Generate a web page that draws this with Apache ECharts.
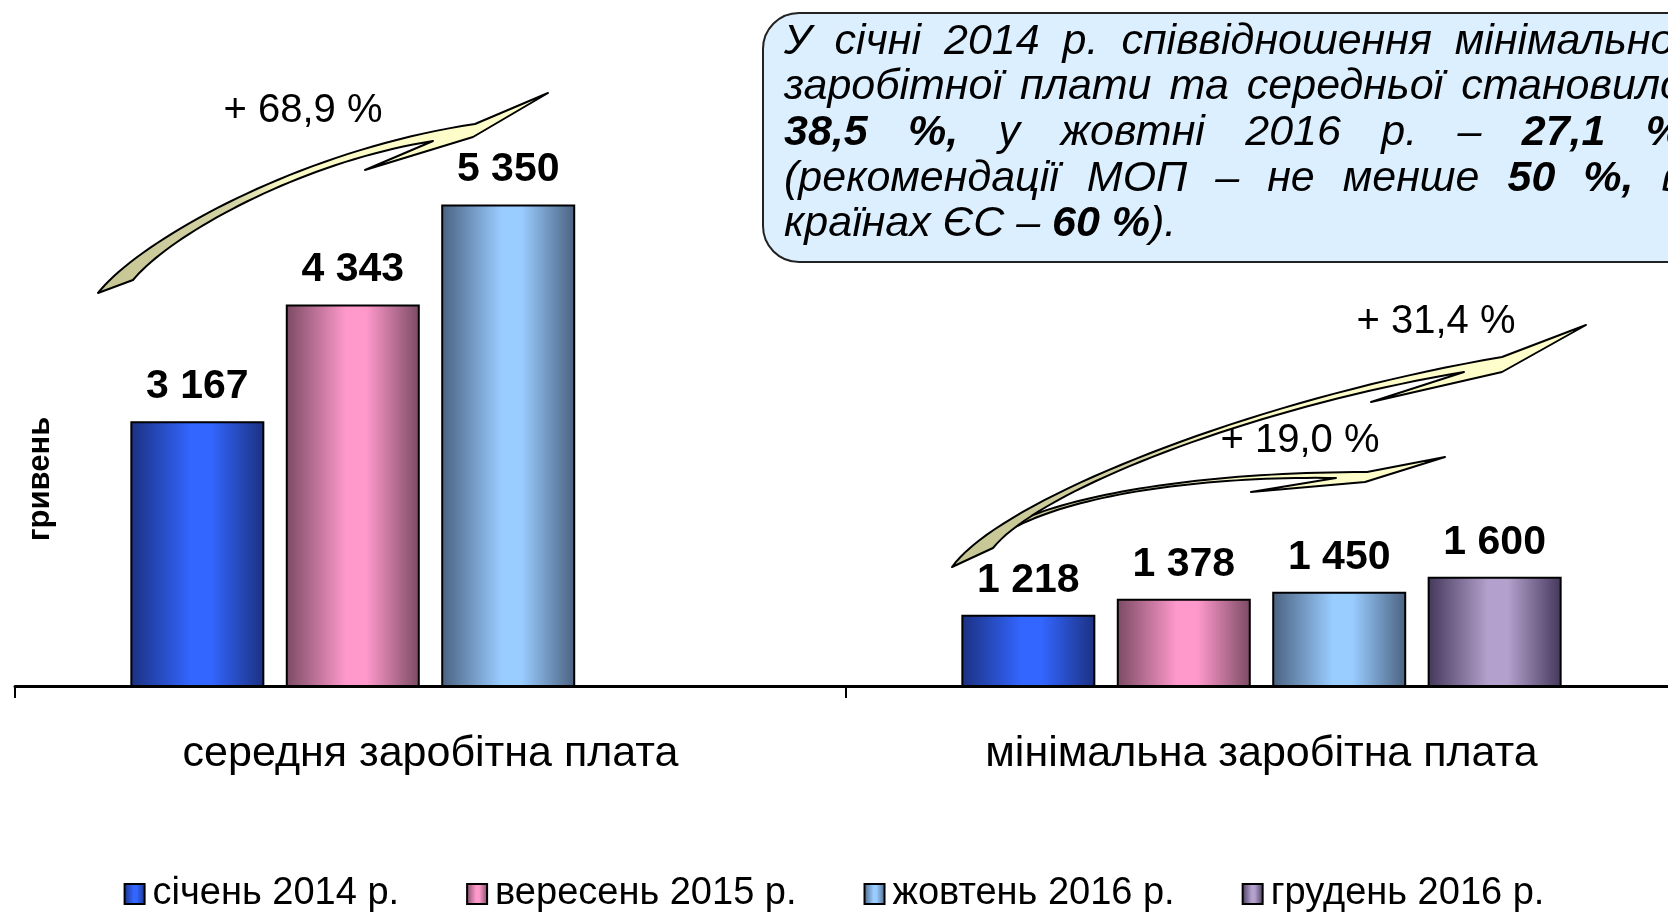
<!DOCTYPE html>
<html><head><meta charset="utf-8">
<script src="https://cdn.jsdelivr.net/npm/echarts@6/dist/echarts.min.js"></script>
<style>html,body{margin:0;padding:0;background:#fff}#c{width:1668px;height:912px}</style>
</head><body><div id="c"></div>
<script>
// ---- data ----
const categories = ['середня заробітна плата', 'мінімальна заробітна плата'];
const seriesNames = ['січень 2014 р.', 'вересень 2015 р.', 'жовтень 2016 р.', 'грудень 2016 р.'];
const jan2014 = [3167, 1218];
const sep2015 = [4343, 1378];
const oct2016 = [5350, 1450];
const dec2016 = [null, 1600];
const growthLabels = ['+ 68,9 %', '+ 31,4 %', '+ 19,0 %'];
const axisName = 'гривень';
const noteLines = [
  [['У',0],['січні',0],['2014',0],['р.',0],['співвідношення',0],['мінімальної',0]],
  [['заробітної',0],['плати',0],['та',0],['середньої',0],['становило',0]],
  [['38,5',1],['%,',1],['у',0],['жовтні',0],['2016',0],['р.',0],['–',0],['27,1',1],['%',1]],
  [['(рекомендації',0],['МОП',0],['–',0],['не',0],['менше',0],['50',1],['%,',1],['в',0]],
  [['країнах ЄС – ',0],['60 %',1],[').',0]]
];

// ---- styles ----
const FONT = '"Liberation Sans", Arial, sans-serif';
const palette = [
  ['#1b3080', '#3366ff'],
  ['#7a4a62', '#ff99cc'],
  ['#4a6180', '#99ccff'],
  ['#43375a', '#b3a0cc']
];
function grad(d, l) {
  return new echarts.graphic.LinearGradient(0, 0, 1, 0, [
    {offset: 0, color: d}, {offset: 0.45, color: l}, {offset: 0.6, color: l}, {offset: 1, color: d}
  ]);
}
function fmt(v) { return String(v).replace(/\B(?=(\d{3})+(?!\d))/g, ' '); }

const seriesData = [jan2014, sep2015, oct2016, dec2016];
const series = seriesData.map((d, i) => ({
  type: 'bar', name: seriesNames[i], data: d,
  barWidth: 134, barGap: '16%',
  itemStyle: {color: grad(palette[i][0], palette[i][1]), borderColor: '#000', borderWidth: 2},
  label: {show: true, position: 'top', distance: 14, fontSize: 41, fontWeight: 'bold',
    color: '#000', fontFamily: FONT, formatter: p => fmt(p.value)}
}));

// ---- arrows (decorative annotations) ----
function arrowFill() {
  return new echarts.graphic.LinearGradient(0, 0, 1, 0, [
    {offset: 0, color: '#c6c694'}, {offset: 0.3, color: '#d2d2a4'},
    {offset: 0.42, color: '#fafac6'}, {offset: 1, color: '#ffffcc'}
  ]);
}
function cubic(p0, p1, p2, p3, n) {
  const out = [];
  for (let i = 1; i <= n; i++) {
    const t = i / n, a = (1 - t) ** 3, b = 3 * (1 - t) ** 2 * t, c = 3 * (1 - t) * t * t, d = t ** 3;
    out.push([a * p0[0] + b * p1[0] + c * p2[0] + d * p3[0], a * p0[1] + b * p1[1] + c * p2[1] + d * p3[1]]);
  }
  return out;
}
function arrowPoly(a) {
  const pts = [a.s];
  pts.push(...cubic(a.s, a.u1, a.u2, a.ue, 40));
  pts.push(...a.head);
  pts.push(...cubic(a.ls, a.l1, a.l2, a.le, 40));
  return pts;
}
const arrows = [
  {s: [98, 293], u1: [140, 240], u2: [300, 150], ue: [475, 124],
   head: [[548, 93], [473, 137], [365, 170], [433, 141]],
   ls: [433, 141], l1: [300, 162], l2: [170, 235], le: [133, 280]},
  {s: [1012, 524], u1: [1070, 495], u2: [1200, 472], ue: [1367, 472],
   head: [[1445, 457], [1365, 482], [1251, 492], [1336, 478]],
   ls: [1336, 478], l1: [1200, 476], l2: [1070, 495], le: [1008, 531]},
  {s: [952, 567], u1: [1000, 500], u2: [1250, 400], ue: [1502, 357],
   head: [[1586, 325], [1502, 372], [1371, 402], [1464, 372]],
   ls: [1464, 372], l1: [1250, 408], l2: [1040, 490], le: [993, 548]}
];
const graphics = arrows.map(a => ({
  type: 'polygon', z: 20, shape: {points: arrowPoly(a)},
  style: {fill: arrowFill(), stroke: '#000', lineWidth: 2, lineJoin: 'round'}
}));
const labelPos = [[303, 111], [1436, 322], [1300, 441]];
growthLabels.forEach((t, i) => graphics.push({
  type: 'text', z: 21, x: labelPos[i][0], y: labelPos[i][1],
  style: {text: t, font: '40px ' + FONT, fill: '#000', align: 'center', textAlign: 'center',
    verticalAlign: 'middle', textVerticalAlign: 'middle'}
}));
graphics.push({
  type: 'text', z: 21, x: 40, y: 479, rotation: Math.PI / 2,
  style: {text: axisName, font: 'bold 31px ' + FONT, fill: '#000', align: 'center', textAlign: 'center',
    verticalAlign: 'middle', textVerticalAlign: 'middle'}
});

// ---- note box ----
graphics.push({
  type: 'rect', z: 15, shape: {x: 763, y: 13, width: 960, height: 249, r: 36},
  style: {fill: '#dcefff', stroke: '#222', lineWidth: 2}
});
const FS = 43;
const ctx = document.createElement('canvas').getContext('2d');
function fontOf(b) { return 'italic ' + (b ? 'bold ' : '') + FS + 'px ' + FONT; }
function tw(t, b) { ctx.font = fontOf(b); return ctx.measureText(t).width; }
const noteL = 784, noteR = 1684, lineY = [42, 87, 133, 179, 224];
noteLines.forEach((line, i) => {
  const justify = i < noteLines.length - 1;
  const widths = line.map(([t, b]) => tw(t, b));
  const total = widths.reduce((a, b) => a + b, 0);
  const gap = justify ? (noteR - noteL - total) / (line.length - 1) : 0;
  let x = noteL;
  line.forEach(([t, b], k) => {
    graphics.push({type: 'text', z: 16, x: x, y: lineY[i],
      style: {text: t, font: fontOf(b), fill: '#000', verticalAlign: 'middle', textVerticalAlign: 'middle'}});
    x += widths[k] + gap;
  });
});

const chart = echarts.init(document.getElementById('c'));
chart.setOption({
  backgroundColor: '#fff',
  animation: false,
  textStyle: {fontFamily: FONT},
  grid: {left: 15, width: 1662, top: 140, height: 546, containLabel: false, outerBoundsMode: 'none'},
  legend: {top: 870, left: 'center', itemWidth: 20, itemHeight: 20, itemGap: 67, icon: 'rect',
    textStyle: {fontSize: 38, color: '#000', fontFamily: FONT, padding: [0, 0, 0, 3]},
    itemStyle: {borderColor: '#000', borderWidth: 2}},
  xAxis: {type: 'category', data: categories,
    axisLine: {lineStyle: {color: '#000', width: 3}},
    axisTick: {show: true, length: 12, lineStyle: {color: '#000', width: 2}},
    axisLabel: {fontSize: 43, color: '#000', margin: 47, interval: 0, fontFamily: FONT}},
  yAxis: {type: 'value', show: false, min: 500, max: 6000},
  series: series,
  graphic: graphics
});
</script></body></html>
